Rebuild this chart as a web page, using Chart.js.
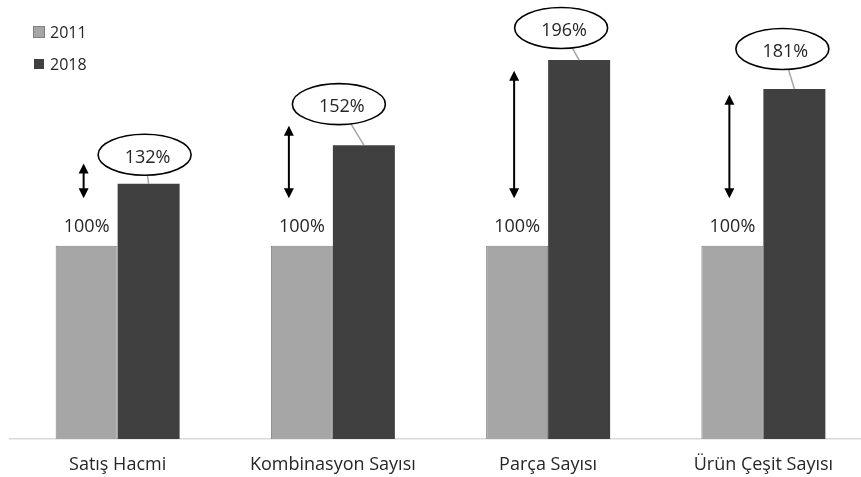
<!DOCTYPE html>
<html>
<head>
<meta charset="utf-8">
<script src="https://cdn.jsdelivr.net/npm/chart.js@4.4.1/dist/chart.umd.min.js"></script>
<style>
  html, body { margin: 0; padding: 0; background: #fff; overflow: hidden; }
  #wrap { position: absolute; left: 0; top: 0; width: 881px; height: 477px; }
</style>
</head>
<body>
<div id="wrap"><canvas id="myChart" width="881" height="477"></canvas></div>
<script>
// categories and series
const categories = ['Satış Hacmi', 'Kombinasyon Sayısı', 'Parça Sayısı', 'Ürün Çeşit Sayısı'];
const seriesNames = ['2011', '2018'];
const values2011 = [100, 100, 100, 100];
const values2018 = [132, 152, 196, 181];

// double arrows next to the 2011 bars (value range on the y scale)
const arrowRanges = [[124.5, 142.5], [124.5, 162], [124.5, 190.5], [124.5, 178]];
const arrowShift = [-3, -13, -3, -3];
// ellipse callouts for the 2018 bars, offset from the bar top
const calloutShift = [[-4, -29], [-25, -41], [-18, -32], [-12, -40]];

const FONT = '"Open Sans", "Noto Sans", sans-serif';

function drawArrow(ctx, x, yTop, yBot) {
    const head = 10, half = 5;
    ctx.strokeStyle = '#000';
    ctx.fillStyle = '#000';
    ctx.lineWidth = 2;
    ctx.beginPath();
    ctx.moveTo(x, yTop + head - 1);
    ctx.lineTo(x, yBot - head + 1);
    ctx.stroke();
    ctx.beginPath();
    ctx.moveTo(x, yTop);
    ctx.lineTo(x - half, yTop + head);
    ctx.lineTo(x + half, yTop + head);
    ctx.closePath();
    ctx.fill();
    ctx.beginPath();
    ctx.moveTo(x, yBot);
    ctx.lineTo(x - half, yBot - head);
    ctx.lineTo(x + half, yBot - head);
    ctx.closePath();
    ctx.fill();
}

const extras = {
    id: 'extras',
    afterDatasetsDraw: function (chart) {
        const ctx = chart.ctx;
        const yScale = chart.scales.y;
        const m0 = chart.getDatasetMeta(0);
        const m1 = chart.getDatasetMeta(1);
        ctx.save();
        ctx.textAlign = 'center';
        ctx.textBaseline = 'middle';
        for (let i = 0; i < categories.length; i++) {
            const b0 = m0.data[i];
            const b1 = m1.data[i];

            // value above the 2011 bar
            ctx.fillStyle = '#262626';
            ctx.font = '18px ' + FONT;
            ctx.fillText(values2011[i] + '%', b0.x, b0.y - 19);

            // arrow
            drawArrow(ctx, b0.x + arrowShift[i],
                yScale.getPixelForValue(arrowRanges[i][1]),
                yScale.getPixelForValue(arrowRanges[i][0]));

            // callout ellipse + leader line
            const rx = 46.5, ry = 20.5;
            const cx = b1.x + calloutShift[i][0];
            const cy = b1.y + calloutShift[i][1];
            const dx = b1.x - cx, dy = b1.y - cy;
            const t = 1 / Math.sqrt((dx / rx) * (dx / rx) + (dy / ry) * (dy / ry));
            ctx.strokeStyle = '#a6a6a6';
            ctx.lineWidth = 1.5;
            ctx.beginPath();
            ctx.moveTo(cx + dx * t, cy + dy * t);
            ctx.lineTo(b1.x, b1.y);
            ctx.stroke();

            ctx.beginPath();
            ctx.ellipse(cx, cy, rx, ry, 0, 0, Math.PI * 2);
            ctx.fillStyle = '#fff';
            ctx.fill();
            ctx.strokeStyle = '#000';
            ctx.lineWidth = 1.6;
            ctx.stroke();

            ctx.fillStyle = '#262626';
            ctx.fillText(values2018[i] + '%', cx + 3, cy + 3);
        }

        // legend, stacked top-left
        const ds = chart.data.datasets;
        ctx.textAlign = 'left';
        ctx.font = '16px ' + FONT;
        for (let k = 0; k < ds.length; k++) {
            const y = 32 + k * 32;
            ctx.fillStyle = ds[k].backgroundColor;
            ctx.fillRect(34, y - 5, 10, 10);
            if (ds[k].borderWidth) {
                ctx.strokeStyle = ds[k].borderColor;
                ctx.lineWidth = 1;
                ctx.strokeRect(33.5, y - 5.5, 11, 11);
            }
            ctx.fillStyle = '#262626';
            ctx.fillText(ds[k].label, 50, y + 1);
        }
        ctx.restore();
    }
};

const ctx = document.getElementById('myChart');
new Chart(ctx, {
    type: 'bar',
    data: {
        labels: categories,
        datasets: [
            {
                label: seriesNames[0],
                data: values2011,
                backgroundColor: '#a6a6a6',
                borderColor: '#808080',
                borderWidth: 1,
                barPercentage: 1,
                categoryPercentage: 0.576
            },
            {
                label: seriesNames[1],
                data: values2018,
                backgroundColor: '#404040',
                borderWidth: 0,
                barPercentage: 1,
                categoryPercentage: 0.576
            }
        ]
    },
    options: {
        responsive: false,
        animation: false,
        devicePixelRatio: 1,
        layout: { padding: { left: 10, right: 10, top: 4, bottom: 0 } },
        plugins: {
            legend: { display: false },
            tooltip: { enabled: false }
        },
        scales: {
            x: {
                grid: { display: false, drawTicks: false, tickLength: 0 },
                border: { display: true, color: '#d9d9d9', width: 1.5 },
                ticks: {
                    color: '#262626',
                    padding: 15,
                    font: { family: FONT, size: 18 }
                },
                afterFit: function (scale) { scale.height = 38; }
            },
            y: {
                display: false,
                min: 0,
                max: 225
            }
        }
    },
    plugins: [extras]
});
</script>
</body>
</html>
